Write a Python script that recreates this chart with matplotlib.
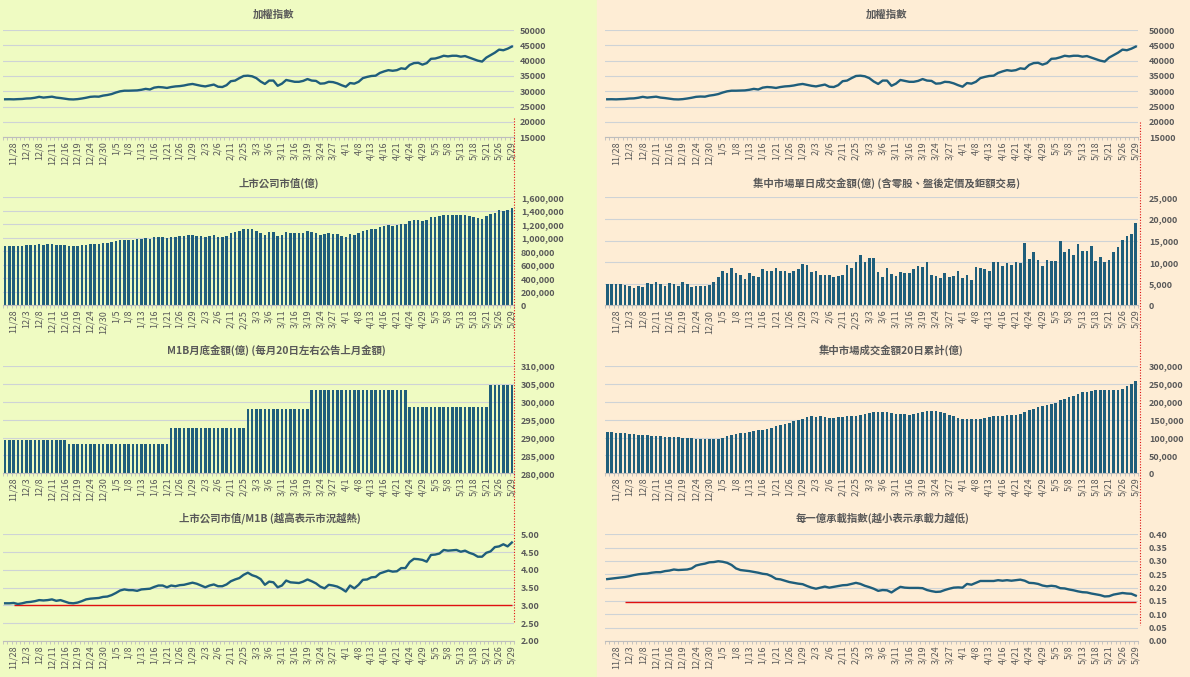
import numpy as np
import matplotlib
matplotlib.use("Agg")
import matplotlib.pyplot as plt
from matplotlib.ticker import FuncFormatter, MultipleLocator
from matplotlib.lines import Line2D
from matplotlib.patches import Rectangle

plt.rcParams['font.family'] = ['Noto Sans CJK TC', 'DejaVu Sans']

# ==============================
# data (120 trading days)
# ==============================
tick_labels = ["11/28", "12/3", "12/8", "12/11", "12/16", "12/19", "12/24", "12/30",
               "1/5", "1/8", "1/13", "1/16", "1/21", "1/26", "1/29", "2/3", "2/6",
               "2/11", "2/25", "3/3", "3/6", "3/11", "3/16", "3/19", "3/24", "3/27",
               "4/1", "4/8", "4/13", "4/16", "4/21", "4/24", "4/29", "5/5", "5/8",
               "5/13", "5/18", "5/21", "5/26", "5/29"]

taiex = [27400, 27420, 27380, 27450, 27500, 27650, 27700, 27900, 28200, 27950,
         28100, 28250, 27950, 27800, 27600, 27400, 27350, 27450, 27650, 27900,
         28200, 28300, 28250, 28600, 28800, 29100, 29600, 30000, 30200, 30200,
         30250, 30300, 30500, 30800, 30600, 31200, 31400, 31300, 31100, 31400,
         31600, 31700, 31900, 32200, 32400, 32100, 31800, 31600, 31900, 32200,
         31500, 31400, 32000, 33300, 33500, 34300, 35000, 35100, 34900, 34300,
         33200, 32400, 33500, 33500, 31800, 32500, 33700, 33400, 33100, 33100,
         33400, 34000, 33500, 33400, 32500, 32600, 33100, 33000, 32600, 32000,
         31500, 32700, 32500, 33100, 34300, 34700, 35000, 35100, 36000, 36500,
         36900, 36700, 36900, 37500, 37300, 38600, 39200, 39300, 38700, 39200,
         40600, 40700, 41100, 41600, 41400, 41600, 41600, 41300, 41500, 41000,
         40500, 40000, 39700, 41000, 41800, 42600, 43600, 43400, 43900, 44600]

market_cap = [885000, 886000, 884000, 887000, 888000, 893000, 895000, 901000, 911000, 903000,
              908000, 912000, 903000, 898000, 891000, 885000, 883000, 887000, 893000, 901000,
              911000, 914000, 912000, 924000, 930000, 940000, 956000, 969000, 975000, 975000,
              977000, 979000, 985000, 995000, 988000, 1008000, 1014000, 1011000, 1005000, 1014000,
              1021000, 1024000, 1030000, 1040000, 1047000, 1037000, 1027000, 1021000, 1030000, 1040000,
              1017000, 1014000, 1034000, 1076000, 1082000, 1108000, 1131000, 1134000, 1127000, 1108000,
              1072000, 1047000, 1082000, 1082000, 1027000, 1050000, 1089000, 1079000, 1069000, 1069000,
              1079000, 1098000, 1082000, 1079000, 1050000, 1053000, 1069000, 1066000, 1053000, 1034000,
              1017000, 1056000, 1050000, 1069000, 1108000, 1121000, 1131000, 1134000, 1163000, 1179000,
              1192000, 1185000, 1192000, 1211000, 1205000, 1247000, 1266000, 1269000, 1250000, 1266000,
              1311000, 1315000, 1328000, 1344000, 1337000, 1344000, 1344000, 1334000, 1340000, 1324000,
              1308000, 1292000, 1282000, 1324000, 1350000, 1376000, 1408000, 1402000, 1418000, 1441000]

# M1B only changes once a month
m1b = ([289200] * 15 + [288200] * 24 + [292700] * 18 + [298100] * 15
       + [303200] * 23 + [298400] * 19 + [304600] * 6)

cap_m1b = [3.06, 3.06, 3.07, 3.04, 3.06, 3.09, 3.10, 3.12, 3.15, 3.14,
           3.15, 3.17, 3.13, 3.15, 3.11, 3.07, 3.06, 3.08, 3.12, 3.17,
           3.19, 3.20, 3.21, 3.24, 3.25, 3.29, 3.35, 3.42, 3.45, 3.43,
           3.43, 3.41, 3.45, 3.46, 3.47, 3.52, 3.56, 3.56, 3.51, 3.56,
           3.54, 3.57, 3.58, 3.61, 3.64, 3.61, 3.56, 3.51, 3.56, 3.59,
           3.54, 3.54, 3.59, 3.68, 3.73, 3.77, 3.86, 3.92, 3.85, 3.81,
           3.74, 3.58, 3.67, 3.65, 3.51, 3.56, 3.70, 3.65, 3.64, 3.63,
           3.67, 3.73, 3.68, 3.62, 3.53, 3.48, 3.58, 3.56, 3.53, 3.47,
           3.39, 3.56, 3.48, 3.58, 3.72, 3.73, 3.79, 3.80, 3.90, 3.94,
           3.98, 3.95, 3.96, 4.05, 4.05, 4.22, 4.31, 4.30, 4.28, 4.23,
           4.42, 4.43, 4.46, 4.56, 4.54, 4.55, 4.56, 4.51, 4.54, 4.48,
           4.44, 4.37, 4.37, 4.48, 4.52, 4.64, 4.66, 4.72, 4.66, 4.77]

daily_turnover = [5000, 4900, 4900, 4900, 4650, 4400, 3950, 4400, 4200, 5100,
                  4900, 5350, 4900, 4400, 5300, 5000, 4400, 5550, 4900, 4200,
                  4400, 4400, 4400, 4650, 5350, 6500, 7950, 7450, 8600, 7450,
                  7000, 6050, 7450, 6800, 6500, 8350, 8100, 7900, 8750, 7900,
                  8100, 7450, 8100, 8350, 9500, 9300, 7650, 8100, 7000, 7000,
                  7000, 6500, 6750, 7000, 9300, 8600, 10000, 11600, 10000, 10900,
                  10900, 7650, 6500, 8600, 7200, 6750, 7650, 7450, 7450, 8350,
                  9050, 8800, 10000, 7000, 6750, 6250, 7450, 6500, 6750, 8100,
                  6250, 7000, 5800, 8800, 8600, 8350, 7900, 10000, 10000, 9050,
                  9750, 9300, 10000, 9750, 14400, 10700, 12300, 10450, 9050, 10450,
                  10200, 10200, 14850, 12300, 13000, 11600, 14150, 12550, 12550, 13700,
                  10200, 11150, 10000, 10450, 12300, 13450, 15100, 16000, 16500, 19050]

turnover_20d = [116000, 116500, 113000, 112500, 112000, 110000, 109000, 107000, 106500, 106000,
                105500, 104000, 103500, 102000, 101000, 100500, 100500, 100000, 99500, 98500,
                97000, 95500, 95000, 95000, 95500, 96000, 100000, 103000, 107000, 110000,
                112000, 114000, 116000, 118000, 120000, 122000, 125000, 128000, 132000, 135000,
                138000, 141000, 145000, 148000, 152000, 157000, 160000, 157000, 159000, 156500,
                156000, 156000, 157000, 157000, 159000, 160000, 160000, 164000, 165000, 168000,
                170000, 170500, 170000, 171000, 168000, 166000, 165000, 165500, 164000, 167000,
                169000, 172000, 174000, 174000, 173000, 171000, 168000, 162000, 159000, 155000,
                152000, 151000, 151000, 151500, 152000, 155000, 157000, 160000, 160000, 160500,
                162000, 163000, 163000, 166000, 171000, 176000, 181000, 184000, 187000, 190000,
                193000, 196000, 205000, 209000, 212000, 216000, 222000, 226000, 227000, 230000,
                232000, 233000, 234000, 234000, 232000, 234000, 237000, 243000, 250000, 259000]

index_per_100m = [0.232, 0.234, 0.236, 0.238, 0.240, 0.243, 0.247, 0.250, 0.252, 0.253,
                  0.256, 0.258, 0.258, 0.262, 0.264, 0.268, 0.266, 0.267, 0.268, 0.272,
                  0.283, 0.287, 0.290, 0.295, 0.296, 0.299, 0.297, 0.293, 0.285, 0.272,
                  0.266, 0.264, 0.262, 0.259, 0.256, 0.252, 0.250, 0.243, 0.233, 0.231,
                  0.226, 0.221, 0.218, 0.215, 0.213, 0.206, 0.200, 0.196, 0.200, 0.204,
                  0.200, 0.203, 0.206, 0.209, 0.210, 0.214, 0.218, 0.214, 0.207, 0.202,
                  0.196, 0.188, 0.191, 0.190, 0.182, 0.193, 0.203, 0.200, 0.199, 0.199,
                  0.199, 0.198, 0.191, 0.187, 0.184, 0.185, 0.191, 0.196, 0.200, 0.201,
                  0.200, 0.214, 0.211, 0.218, 0.225, 0.225, 0.225, 0.225, 0.228, 0.226,
                  0.228, 0.226, 0.228, 0.230, 0.226, 0.218, 0.217, 0.214, 0.208, 0.205,
                  0.207, 0.205, 0.198, 0.197, 0.193, 0.190, 0.186, 0.183, 0.182, 0.178,
                  0.175, 0.172, 0.167, 0.168, 0.174, 0.177, 0.180, 0.178, 0.177, 0.170]

HOT_LEVEL = 3.0        # cap / M1B warning line
LOW_LEVEL = 0.145      # index per 100m warning line

N = len(taiex)
x = np.arange(N)
tick_pos = np.arange(2, N, 3)

# ==============================
# style
# ==============================
LEFT_BG = "#EFFBC2"
RIGHT_BG = "#FEEDD5"
BLUE = "#1F5E7B"
GRID = "#CED3D6"
AXIS = "#BDBDBD"
TEXT = "#595959"
RED = "#E01010"

W, H = 1190, 677
fig = plt.figure(figsize=(W / 100, H / 100), dpi=100)
fig.patches.append(Rectangle((0, 0), 597 / W, 1, transform=fig.transFigure,
                             color=LEFT_BG, zorder=-10))
fig.patches.append(Rectangle((597 / W, 0), 1 - 597 / W, 1, transform=fig.transFigure,
                             color=RIGHT_BG, zorder=-10))


def make_ax(x0, x1, ytop, ybot):
    return fig.add_axes([x0 / W, 1 - ybot / H, (x1 - x0) / W, (ybot - ytop) / H])


def style(ax, ymin, ymax, step, fmt, ypad):
    ax.set_facecolor("none")
    ax.set_xlim(-0.5, N - 0.5)
    ax.set_ylim(ymin, ymax)
    ax.yaxis.set_major_locator(MultipleLocator(step))
    ax.yaxis.set_major_formatter(FuncFormatter(fmt))
    ax.yaxis.tick_right()
    ax.grid(axis="y", color=GRID, lw=0.8)
    ax.set_axisbelow(True)
    for s in ["top", "left", "right"]:
        ax.spines[s].set_visible(False)
    ax.spines["bottom"].set_color(AXIS)
    ax.spines["bottom"].set_linewidth(0.8)
    ax.set_xticks(tick_pos, tick_labels, rotation=90)
    ax.set_xticks(np.arange(N + 1) - 0.5, minor=True)
    ax.tick_params(axis="x", which="major", length=0, labelsize=6.5,
                   labelcolor=TEXT, pad=3)
    ax.tick_params(axis="x", which="minor", length=2, color=AXIS, width=0.6)
    ax.tick_params(axis="y", length=0, labelsize=6.5, labelcolor=TEXT, pad=ypad)
    for t in ax.get_yticklabels():
        t.set_fontweight("bold")


plain = lambda v, p: f"{v:.0f}"
comma = lambda v, p: f"{v:,.0f}"
two = lambda v, p: f"{v:.2f}"

LX0, LX1 = 3, 514
RX0, RX1 = 605, 1138
rows = [(30, 137.3), (197.5, 305.5), (366, 473.3), (534.3, 641)]

# left column
ax = make_ax(LX0, LX1, *rows[0])
ax.plot(x, taiex, color=BLUE, lw=1.7)
style(ax, 15000, 50000, 5000, plain, 4)

ax = make_ax(LX0, LX1, *rows[1])
ax.bar(x, market_cap, width=0.6, color=BLUE)
style(ax, 0, 1600000, 200000, comma, 5)

ax = make_ax(LX0, LX1, *rows[2])
ax.bar(x, m1b, width=0.6, color=BLUE)
style(ax, 280000, 310000, 5000, comma, 5)

ax = make_ax(LX0, LX1, *rows[3])
ax.plot(x, cap_m1b, color=BLUE, lw=1.7, zorder=3)
ax.hlines(HOT_LEVEL, 2, N - 1, color=RED, lw=1.0, zorder=2)
style(ax, 2.0, 5.0, 0.5, two, 5)

# right column
ax = make_ax(RX0, RX1, *rows[0])
ax.plot(x, taiex, color=BLUE, lw=1.7)
style(ax, 15000, 50000, 5000, plain, 8)

ax = make_ax(RX0, RX1, *rows[1])
ax.bar(x, daily_turnover, width=0.6, color=BLUE)
style(ax, 0, 25000, 5000, comma, 8)

ax = make_ax(RX0, RX1, *rows[2])
ax.bar(x, turnover_20d, width=0.6, color=BLUE)
style(ax, 0, 300000, 50000, comma, 8)

ax = make_ax(RX0, RX1, *rows[3])
ax.plot(x, index_per_100m, color=BLUE, lw=1.7, zorder=3)
ax.hlines(LOW_LEVEL, 4, N - 1, color=RED, lw=1.0, zorder=2)
style(ax, 0.0, 0.40, 0.05, two, 8)

# titles
titles = [
    (274, 15, "加權指數"),
    (279, 183, "上市公司市值(億)"),
    (276, 350, "M1B月底金額(億) (每月20日左右公告上月金額)"),
    (270, 518, "上市公司市值/M1B (越高表示市況越熱)"),
    (887, 15, "加權指數"),
    (887, 183, "集中市場單日成交金額(億) (含零股、盤後定價及鉅額交易)"),
    (891, 350, "集中市場成交金額20日累計(億)"),
    (883, 518, "每一億承載指數(越小表示承載力越低)"),
]
for tx, ty, txt in titles:
    fig.text(tx / W, 1 - ty / H, txt, ha="center", va="center",
             fontsize=7.5, fontweight="bold", color=TEXT)

# red dotted markers at the last day
for lx, y0, y1 in [(513.5, 118, 622), (1139.5, 122, 625)]:
    fig.add_artist(Line2D([lx / W, lx / W], [1 - y0 / H, 1 - y1 / H],
                          transform=fig.transFigure, color=RED, lw=0.8,
                          linestyle=(0, (1, 1.5))))

fig.savefig("out.png", dpi=100)
